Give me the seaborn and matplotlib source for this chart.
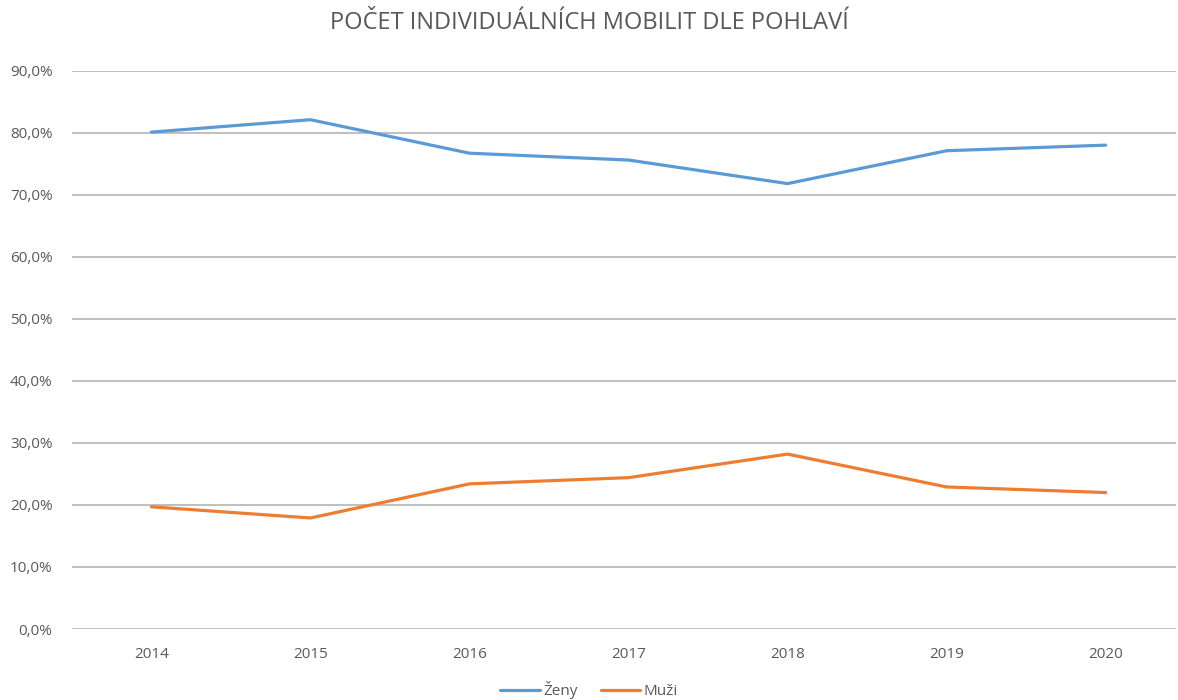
import matplotlib
matplotlib.use("Agg")
import matplotlib.pyplot as plt
import seaborn as sns
import pandas as pd
from matplotlib.ticker import FuncFormatter, MultipleLocator

years = [2014, 2015, 2016, 2017, 2018, 2019, 2020]
zeny = [0.801, 0.821, 0.767, 0.756, 0.718, 0.771, 0.780]
muzi = [0.197, 0.179, 0.234, 0.244, 0.282, 0.229, 0.220]
series_names = ["Ženy", "Muži"]
title = "POČET INDIVIDUÁLNÍCH MOBILIT DLE POHLAVÍ"

df = pd.DataFrame({
    "rok": years * 2,
    "podil": zeny + muzi,
    "pohlavi": [series_names[0]] * len(years) + [series_names[1]] * len(years),
})

sns.set_theme(style="white")
plt.rcParams["font.family"] = ["Open Sans", "DejaVu Sans"]

fig = plt.figure(figsize=(11.78, 7.0), dpi=100)
ax = fig.add_axes([0.061, 0.1014, 0.937, 0.7976])

sns.lineplot(data=df, x="rok", y="podil", hue="pohlavi",
             palette={"Ženy": "#5B9BD5", "Muži": "#ED7D31"},
             linewidth=2.3, ax=ax, legend=True)

ax.set_ylim(0, 0.9)
ax.set_xlim(2013.5, 2020.44)
ax.yaxis.set_major_locator(MultipleLocator(0.1))
ax.yaxis.set_major_formatter(FuncFormatter(lambda v, p: f"{v*100:.1f}%".replace(".", ",")))
ax.set_xticks(years)
ax.set_xticklabels([str(y) for y in years])
ax.grid(axis="y", color="#BFBFBF", linewidth=1.4)
ax.set_axisbelow(True)
for s in ax.spines.values():
    s.set_visible(False)
ax.tick_params(axis="both", length=0, labelsize=11, colors="#595959")
ax.tick_params(axis="y", pad=14)
ax.tick_params(axis="x", pad=13)
ax.set_xlabel("")
ax.set_ylabel("")

handles, labels = ax.get_legend_handles_labels()
ax.legend(handles, labels, loc="center", bbox_to_anchor=(0.5, 0.014),
          bbox_transform=fig.transFigure, ncol=2, frameon=False,
          fontsize=11, handlelength=2.6, handletextpad=0.2, columnspacing=1.5,
          labelcolor="#595959")

fig.text(0.5, 0.967, title, ha="center", va="center", fontsize=17, color="#595959")

fig.savefig("out.png", dpi=100)
